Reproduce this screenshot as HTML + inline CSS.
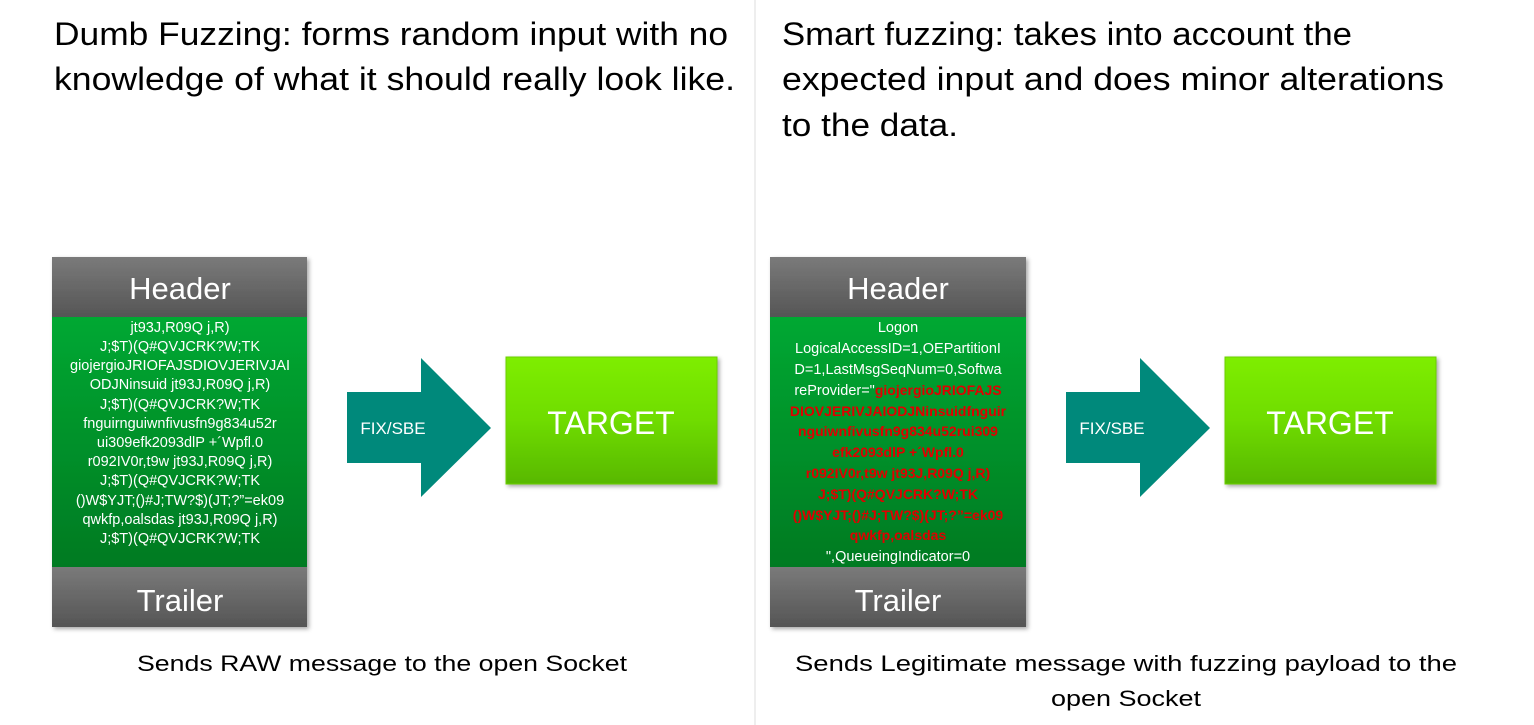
<!DOCTYPE html>
<html><head><meta charset="utf-8"><style>
html,body{margin:0;padding:0;background:#fff;}
svg{display:block;font-family:"Liberation Sans",sans-serif;}
</style></head><body>
<svg width="1534" height="725" viewBox="0 0 1534 725" xmlns="http://www.w3.org/2000/svg">
<defs>
<linearGradient id="gray" x1="0" y1="0" x2="0" y2="1"><stop offset="0" stop-color="#7a7a7a"/><stop offset="1" stop-color="#555"/></linearGradient>
<linearGradient id="green" x1="0" y1="0" x2="0" y2="1"><stop offset="0" stop-color="#00a832"/><stop offset="1" stop-color="#007a22"/></linearGradient>
<linearGradient id="lime" x1="0" y1="0" x2="0" y2="1"><stop offset="0" stop-color="#7eee00"/><stop offset="0.5" stop-color="#6fdc00"/><stop offset="1" stop-color="#58b800"/></linearGradient>
<filter id="sh" x="-10%" y="-10%" width="130%" height="130%"><feDropShadow dx="2" dy="2" stdDeviation="2" flood-color="#000" flood-opacity="0.35"/></filter>
</defs>
<line x1="755" y1="0" x2="755" y2="725" stroke="#ddd" stroke-width="1"/>

<g font-size="32" fill="#000">
<text x="54" y="45" textLength="674" lengthAdjust="spacingAndGlyphs">Dumb Fuzzing: forms random input with no</text>
<text x="54" y="90" textLength="681" lengthAdjust="spacingAndGlyphs">knowledge of what it should really look like.</text>
<text x="782" y="45" textLength="570" lengthAdjust="spacingAndGlyphs">Smart fuzzing: takes into account the</text>
<text x="782" y="90" textLength="662" lengthAdjust="spacingAndGlyphs">expected input and does minor alterations</text>
<text x="782" y="136" textLength="176" lengthAdjust="spacingAndGlyphs">to the data.</text>
</g>

<g filter="url(#sh)">
<rect x="52" y="257" width="255" height="60" fill="url(#gray)"/>
<rect x="52" y="317" width="255" height="250" fill="url(#green)"/>
<rect x="52" y="567" width="255" height="60" fill="url(#gray)"/>
</g>
<text x="180" y="299" font-size="31" fill="#fff" text-anchor="middle">Header</text>
<text x="180" y="611" font-size="31" fill="#fff" text-anchor="middle">Trailer</text>
<g font-size="14.5" fill="#fff" text-anchor="middle">
<text x="180" y="332">jt93J,R09Q j,R)</text>
<text x="180" y="351">J;$T)(Q#QVJCRK?W;TK</text>
<text x="180" y="370">giojergioJRIOFAJSDIOVJERIVJAI</text>
<text x="180" y="389">ODJNinsuid  jt93J,R09Q j,R)</text>
<text x="180" y="409">J;$T)(Q#QVJCRK?W;TK</text>
<text x="180" y="428">fnguirnguiwnfivusfn9g834u52r</text>
<text x="180" y="447">ui309efk2093dlP +´Wpfl.0</text>
<text x="180" y="466">r092IV0r,t9w jt93J,R09Q j,R)</text>
<text x="180" y="485">J;$T)(Q#QVJCRK?W;TK</text>
<text x="180" y="505">()W$YJT;()#J;TW?$)(JT;?”=ek09</text>
<text x="180" y="524">qwkfp,oalsdas  jt93J,R09Q j,R)</text>
<text x="180" y="543">J;$T)(Q#QVJCRK?W;TK</text>
</g>

<polygon points="347,392 421,392 421,358 491,428 421,497 421,463 347,463" fill="#00897b"/>
<text x="393" y="434" font-size="17" fill="#fff" text-anchor="middle">FIX/SBE</text>
<rect x="506" y="357" width="211" height="127" fill="url(#lime)" stroke="#6cd000" filter="url(#sh)"/>
<text x="611" y="434" font-size="32" fill="#fff" text-anchor="middle">TARGET</text>

<g filter="url(#sh)">
<rect x="770" y="257" width="256" height="60" fill="url(#gray)"/>
<rect x="770" y="317" width="256" height="250" fill="url(#green)"/>
<rect x="770" y="567" width="256" height="60" fill="url(#gray)"/>
</g>
<text x="898" y="299" font-size="31" fill="#fff" text-anchor="middle">Header</text>
<text x="898" y="611" font-size="31" fill="#fff" text-anchor="middle">Trailer</text>
<g font-size="14.5" text-anchor="middle" fill="#fff">
<text x="898" y="332">Logon</text>
<text x="898" y="353">LogicalAccessID=1,OEPartitionI</text>
<text x="898" y="374">D=1,LastMsgSeqNum=0,Softwa</text>
<text x="898" y="395">reProvider="<tspan fill="#e00000" font-weight="bold" font-size="14">giojergioJRIOFAJS</tspan></text>
<g fill="#e00000" font-weight="bold" font-size="14">
<text x="898" y="416">DIOVJERIVJAIODJNinsuidfnguir</text>
<text x="898" y="436">nguiwnfivusfn9g834u52rui309</text>
<text x="898" y="457">efk2093dlP +´Wpfl.0</text>
<text x="898" y="478">r092IV0r,t9w jt93J,R09Q j,R)</text>
<text x="898" y="499">J;$T)(Q#QVJCRK?W;TK</text>
<text x="898" y="520">()W$YJT;()#J;TW?$)(JT;?”=ek09</text>
<text x="898" y="540">qwkfp,oalsdas</text>
</g>
<text x="898" y="561">",QueueingIndicator=0</text>
</g>

<polygon points="1066,392 1140,392 1140,358 1210,428 1140,497 1140,463 1066,463" fill="#00897b"/>
<text x="1112" y="434" font-size="17" fill="#fff" text-anchor="middle">FIX/SBE</text>
<rect x="1225" y="357" width="211" height="127" fill="url(#lime)" stroke="#6cd000" filter="url(#sh)"/>
<text x="1330" y="434" font-size="32" fill="#fff" text-anchor="middle">TARGET</text>

<g font-size="22" fill="#000" text-anchor="middle">
<text x="382" y="671" textLength="490" lengthAdjust="spacingAndGlyphs">Sends RAW message to the open Socket</text>
<text x="1126" y="671" textLength="662" lengthAdjust="spacingAndGlyphs">Sends Legitimate message with fuzzing payload to the</text>
<text x="1126" y="706" textLength="150" lengthAdjust="spacingAndGlyphs">open Socket</text>
</g>
</svg>
</body></html>
